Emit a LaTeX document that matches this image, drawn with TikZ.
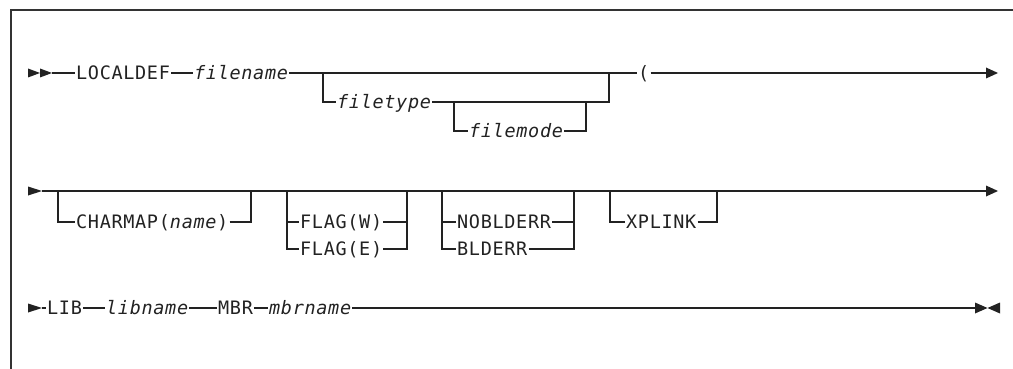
\documentclass[tikz,border=0pt]{standalone}
\usepackage{fontspec}
\newfontfamily\railfont[LetterSpace=3.6]{DejaVu Sans Mono}
\definecolor{railink}{HTML}{222222}
\definecolor{framegray}{HTML}{333333}
\tikzset{
  rail/.style={line width=1.2pt, draw=railink},
  word/.style={inner xsep=1pt, inner ysep=0pt, text height=13.5pt, text depth=0pt,
    anchor=west, font=\railfont\fontsize{18.5}{20}\selectfont, text=railink},
  tip/.style={fill=railink, draw=none},
}
\begin{document}
\begin{tikzpicture}[x=1pt,y=-1pt]
\useasboundingbox (0,0) rectangle (1013,369);
% frame
\draw[line width=1.6pt, draw=framegray] (11,369) -- (11,10) -- (1013,10);

% ---------- first row ----------
\fill[tip] (28,68.5) -- (40,73) -- (28,77.5) -- cycle;
\fill[tip] (40,68.5) -- (52,73) -- (40,77.5) -- cycle;
\coordinate (s1) at (52,73);
\coordinate (e1) at (986,73);
\fill[tip] (986,67.5) -- (998,73) -- (986,78.5) -- cycle;

\node[word] (localdef) at (75,73) {LOCALDEF};
\node[word] (filename) at (193,73) {\itshape filename};
\node[word] (filetype) at (336,102) {\itshape filetype};
\node[word] (filemode) at (468,131) {\itshape filemode};
\node[word] (paren) at (637,73) {(};

\coordinate (a1) at (323,73);
\coordinate (a2) at (609,73);
\coordinate (b1) at (454,102);
\coordinate (b2) at (586,102);

\draw[rail] (s1) -- (localdef.west);
\draw[rail] (localdef.east) -- (filename.west);
\draw[rail] (filename.east) -- (a1) -- (a2) -- (paren.west);
\draw[rail] (paren.east) -- (e1);
\draw[rail] (a1) |- (filetype.west);
\draw[rail] (filetype.east) -| (a2);
\draw[rail] (b1) |- (filemode.west);
\draw[rail] (filemode.east) -| (b2);

% ---------- second row ----------
\fill[tip] (28,186.5) -- (42,191) -- (28,195.5) -- cycle;
\coordinate (s2) at (42,191);
\coordinate (e2) at (986,191);
\fill[tip] (986,185.5) -- (998,191) -- (986,196.5) -- cycle;
\draw[rail] (s2) -- (e2);

\node[word] (charmap) at (75,222) {CHARMAP(\textit{name})};
\coordinate (c1) at (58,191);
\coordinate (c2) at (251,191);
\draw[rail] (c1) |- (charmap.west);
\draw[rail] (charmap.east) -| (c2);

\node[word] (flagw) at (299,222) {FLAG(W)};
\node[word] (flage) at (299,249) {FLAG(E)};
\coordinate (f1) at (287,191);
\coordinate (f2) at (407,191);
\draw[rail] (f1) |- (flage.west);
\draw[rail] (f1 |- flagw.west) -- (flagw.west);
\draw[rail] (flage.east) -| (f2);
\draw[rail] (flagw.east) -- (flagw.east -| f2);

\node[word] (nob) at (456,222) {NOBLDERR};
\node[word] (blderr) at (456,249) {BLDERR};
\coordinate (n1) at (442,191);
\coordinate (n2) at (574,191);
\draw[rail] (n1) |- (blderr.west);
\draw[rail] (n1 |- nob.west) -- (nob.west);
\draw[rail] (blderr.east) -| (n2);
\draw[rail] (nob.east) -- (nob.east -| n2);

\node[word] (xplink) at (625,222) {XPLINK};
\coordinate (x1) at (610,191);
\coordinate (x2) at (717,191);
\draw[rail] (x1) |- (xplink.west);
\draw[rail] (xplink.east) -| (x2);

% ---------- third row ----------
\fill[tip] (28,303.5) -- (42,308) -- (28,312.5) -- cycle;
\coordinate (s3) at (42,308);
\coordinate (e3) at (975,308);
\fill[tip] (975,302.5) -- (987.5,308) -- (975,313.5) -- cycle;
\fill[tip] (1000,302.5) -- (987.5,308) -- (1000,313.5) -- cycle;

\node[word] (lib) at (46,308) {LIB};
\node[word] (libname) at (105,308) {\itshape libname};
\node[word] (mbr) at (217,308) {MBR};
\node[word] (mbrname) at (268,308) {\itshape mbrname};

\draw[rail] (s3) -- (lib.west);
\draw[rail] (lib.east) -- (libname.west);
\draw[rail] (libname.east) -- (mbr.west);
\draw[rail] (mbr.east) -- (mbrname.west);
\draw[rail] (mbrname.east) -- (e3);
\end{tikzpicture}
\end{document}
